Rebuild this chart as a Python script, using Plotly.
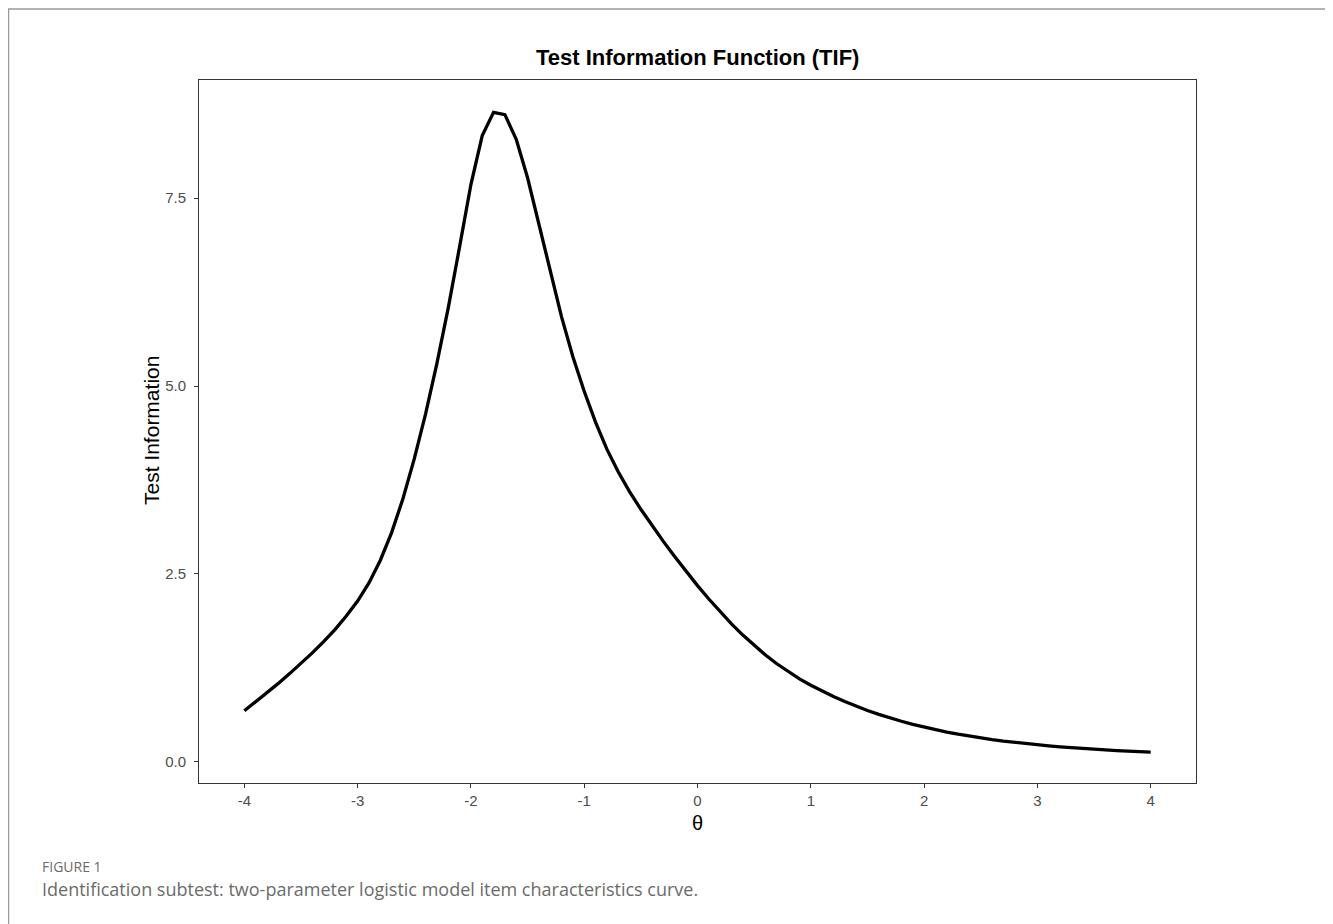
import plotly.graph_objects as go

theta = [round(-4.0 + 0.1 * i, 1) for i in range(81)]
info = [
    0.68, 0.80, 0.92, 1.045, 1.175, 1.31, 1.45, 1.60, 1.76, 1.94,      # -4.0 .. -3.1
    2.14, 2.38, 2.68, 3.05, 3.50, 4.03, 4.63, 5.30, 6.04, 6.85,        # -3.0 .. -2.1
    7.68, 8.33, 8.64, 8.61, 8.28, 7.77, 7.16, 6.53, 5.92, 5.39,        # -2.0 .. -1.1
    4.93, 4.52, 4.16, 3.86, 3.595, 3.36, 3.14, 2.93, 2.73, 2.535,      # -1.0 .. -0.1
    2.345, 2.167, 1.997, 1.837, 1.687, 1.549, 1.422, 1.306, 1.20, 1.105,  # 0.0 .. 0.9
    1.02, 0.942, 0.870, 0.804, 0.742, 0.685, 0.633, 0.585, 0.541, 0.501,  # 1.0 .. 1.9
    0.464, 0.43, 0.398, 0.369, 0.343, 0.319, 0.297, 0.277, 0.259, 0.243,  # 2.0 .. 2.9
    0.228, 0.214, 0.201, 0.189, 0.178, 0.168, 0.159, 0.151, 0.143, 0.136,  # 3.0 .. 3.9
    0.130,
]
x_ticks = [-4, -3, -2, -1, 0, 1, 2, 3, 4]
x_tick_text = ["-4", "-3", "-2", "-1", "0", "1", "2", "3", "4"]
y_ticks = [0, 2.5, 5.0, 7.5]
y_tick_text = ["0.0", "2.5", "5.0", "7.5"]

title_text = "Test Information Function (TIF)"
x_title = "θ"
y_title = "Test Information"
caption_label = "FIGURE 1"
caption_text = "Identification subtest: two-parameter logistic model item characteristics curve."

OFF = 8  # page offset of the figure inside the browser
W, H = 1325, 916
L, R, T, B = 199 - OFF, 1196 - OFF, 80 - OFF, 783 - OFF
pw, ph = R - L, B - T

def px(x):
    return (x - OFF - L) / pw

def py(y):
    return (B - (y - OFF)) / ph

xmin, xmax = min(theta), max(theta)
xr = [xmin - 0.05 * (xmax - xmin), xmax + 0.05 * (xmax - xmin)]
yr = [-0.28, 9.07]

fig = go.Figure()
fig.add_trace(go.Scatter(x=theta, y=info, mode="lines",
                         line=dict(color="black", width=3.3), showlegend=False,
                         hoverinfo="x+y"))

tick_font = dict(family="Liberation Sans, Arial, sans-serif", size=15, color="#4d4d4d")
axis_common = dict(showgrid=False, zeroline=False, showline=True, mirror=True,
                   linecolor="#333333", linewidth=1, ticks="outside", ticklen=4,
                   tickcolor="#333333", tickwidth=1, tickfont=tick_font)

fig.update_layout(
    width=W, height=H,
    margin=dict(l=L, r=W - R, t=T, b=H - B, autoexpand=False),
    paper_bgcolor="white", plot_bgcolor="white",
    xaxis=dict(range=xr, tickvals=x_ticks, ticktext=x_tick_text, **axis_common),
    yaxis=dict(range=yr, tickvals=y_ticks, ticktext=y_tick_text,
               ticklabelstandoff=5, **axis_common),
    showlegend=False,
)

sans = "Liberation Sans, Arial, sans-serif"
cap = "Open Sans, Noto Sans, sans-serif"
annos = [
    dict(text="<b>" + title_text + "</b>", x=0.5, y=py(57), xref="paper", yref="paper",
         xanchor="center", yanchor="middle", showarrow=False,
         font=dict(family=sans, size=22, color="black")),
    dict(text=x_title, x=px(697), y=py(823), xref="paper", yref="paper",
         xanchor="center", yanchor="middle", showarrow=False,
         font=dict(family=sans, size=20, color="black")),
    dict(text=y_title, x=px(151), y=py(431), xref="paper", yref="paper",
         xanchor="center", yanchor="middle", showarrow=False, textangle=-90,
         font=dict(family=sans, size=21, color="black")),
    dict(text=caption_label, x=px(40), y=py(866), xref="paper", yref="paper",
         xanchor="left", yanchor="middle", showarrow=False,
         font=dict(family=cap, size=14, color="#6b6b6b")),
    dict(text=caption_text, x=px(40), y=py(889), xref="paper", yref="paper",
         xanchor="left", yanchor="middle", showarrow=False,
         font=dict(family=cap, size=18, color="#6b6b6b")),
]
fig.update_layout(annotations=annos)

fig.add_shape(type="rect", xref="paper", yref="paper",
              x0=px(8.5), x1=px(1330), y0=py(960), y1=py(9),
              line=dict(color="#9a9a9a", width=1.5), fillcolor="rgba(0,0,0,0)", layer="below")

fig.write_html("out.html")
